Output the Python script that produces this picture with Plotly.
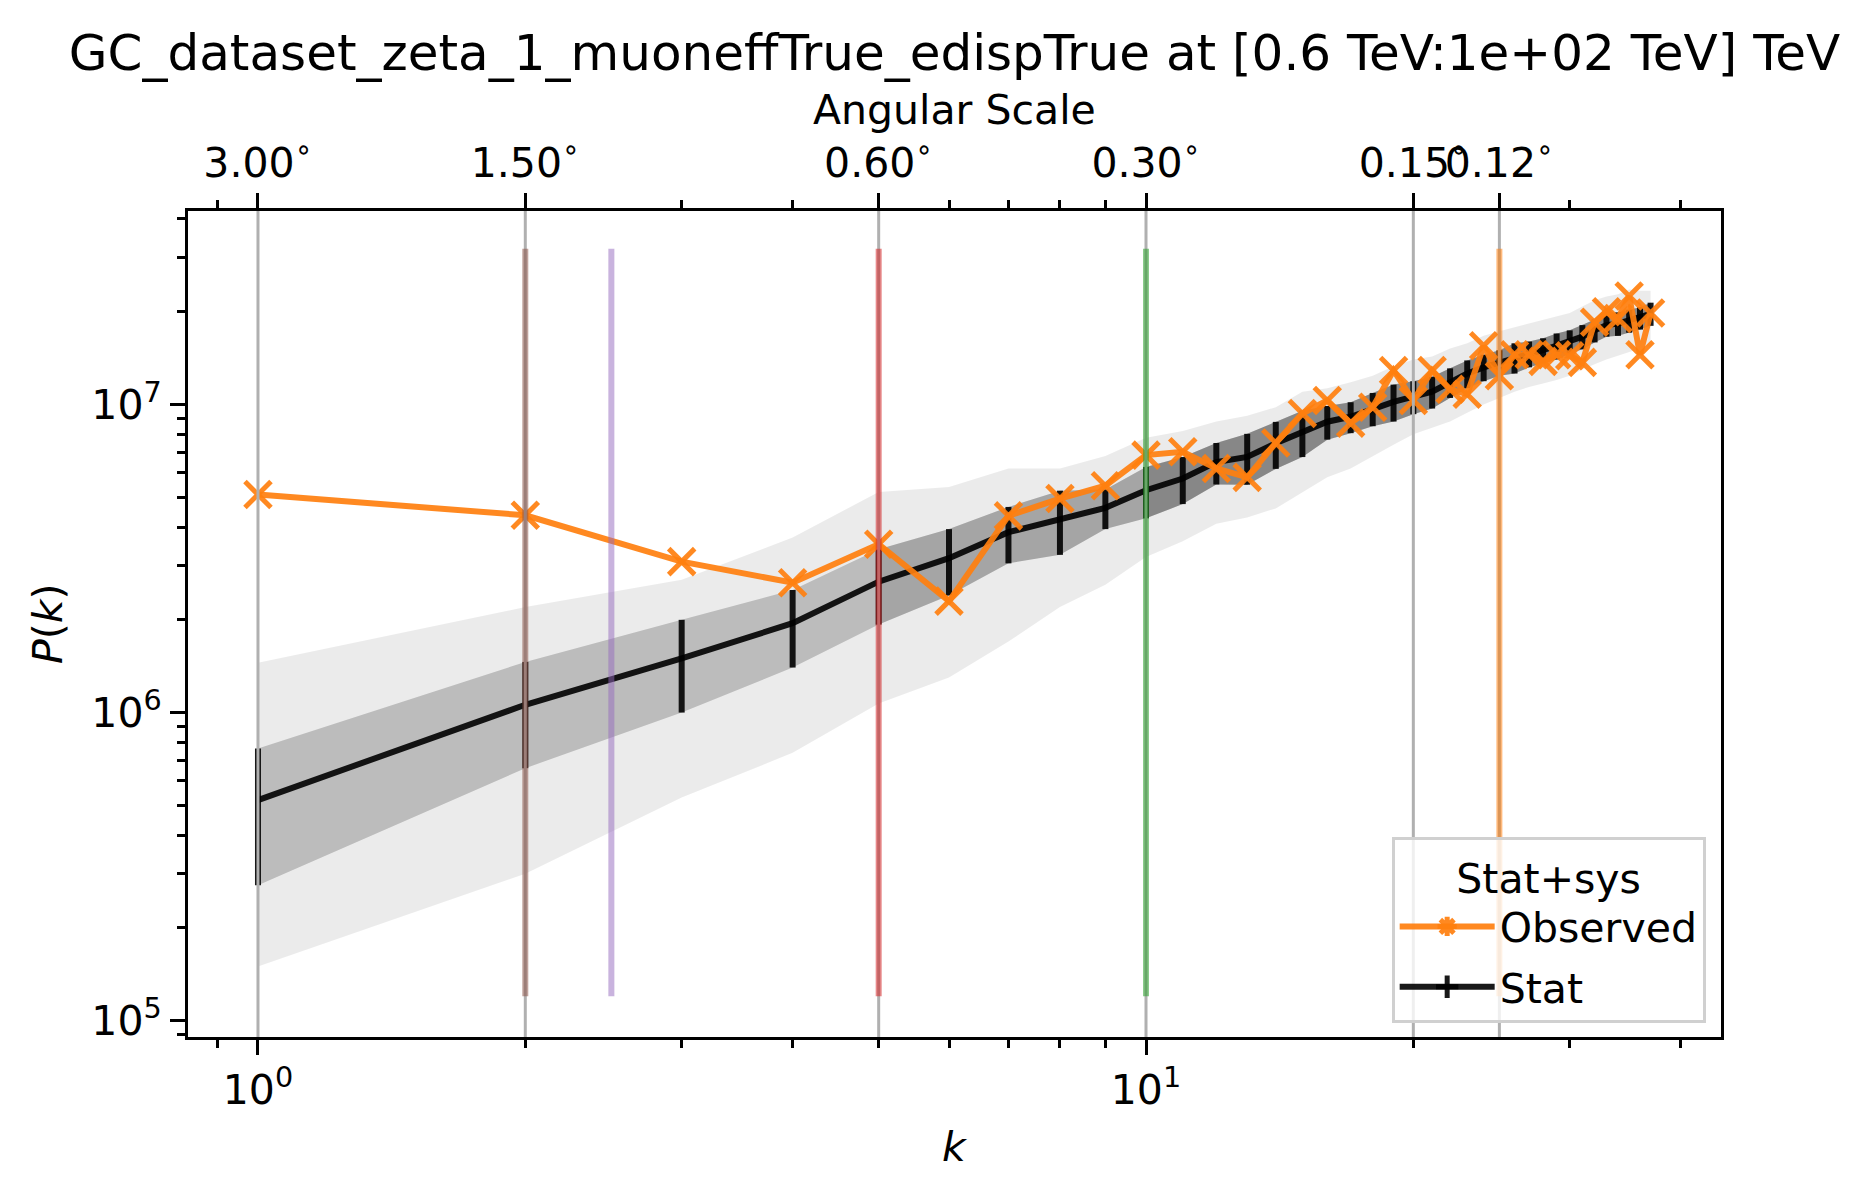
import plotly.graph_objects as go

# ---------------- data ----------------
k = list(range(1, 38))

observed = [5.1e6, 4.37e6, 3.09e6, 2.64e6, 3.52e6, 2.3e6, 4.35e6, 4.95e6, 5.45e6, 6.85e6,
            7.02e6, 6.2e6, 5.8e6, 7.5e6, 9.35e6, 1.03e7, 8.7e6, 9.8e6, 1.29e7, 1.03e7,
            1.29e7, 1.12e7, 1.08e7, 1.55e7, 1.24e7, 1.45e7, 1.45e7, 1.38e7, 1.45e7, 1.44e7,
            1.37e7, 1.85e7, 2.0e7, 1.9e7, 2.25e7, 1.45e7, 1.98e7]

stat_mean = [5.2e5, 1.06e6, 1.50e6, 1.95e6, 2.66e6, 3.17e6, 3.85e6, 4.25e6, 4.62e6, 5.27e6,
             5.75e6, 6.5e6, 6.76e6, 7.48e6, 8.15e6, 8.79e6, 9.12e6, 9.7e6, 1.02e7, 1.06e7,
             1.10e7, 1.18e7, 1.26e7, 1.32e7, 1.37e7, 1.42e7, 1.46e7, 1.50e7, 1.55e7, 1.60e7,
             1.66e7, 1.74e7, 1.81e7, 1.83e7, 1.87e7, 1.91e7, 1.97e7]

stat_err = [2.45e5, 4.0e5, 5.0e5, 5.5e5, 7.3e5, 7.7e5, 8.0e5, 1.0e6, 6.8e5, 1.0e6,
            1.0e6, 1.0e6, 1.27e6, 1.3e6, 1.4e6, 1.1e6, 1.05e6, 1.2e6, 1.4e6, 1.3e6,
            1.3e6, 1.3e6, 1.3e6, 1.3e6, 1.3e6, 1.6e6, 1.4e6, 1.4e6, 1.5e6, 1.4e6,
            1.5e6, 1.5e6, 1.5e6, 1.6e6, 1.6e6, 1.6e6, 1.7e6]

# envelope of the simulated realisations (grey spaghetti)
cloud_hi = [1.45e6, 2.2e6, 2.7e6, 3.7e6, 5.2e6, 5.4e6, 6.2e6, 6.2e6, 6.8e6, 7.8e6,
            8.2e6, 8.8e6, 9.2e6, 9.8e6, 1.1e7, 1.13e7, 1.18e7, 1.24e7, 1.33e7, 1.4e7,
            1.43e7, 1.52e7, 1.58e7, 1.67e7, 1.73e7, 1.78e7, 1.83e7, 1.88e7, 1.93e7, 1.98e7,
            2.08e7, 2.18e7, 2.24e7, 2.28e7, 2.36e7, 2.34e7, 2.34e7]
cloud_lo = [1.5e5, 3.0e5, 5.3e5, 7.4e5, 1.07e6, 1.3e6, 1.7e6, 2.2e6, 2.6e6, 3.2e6,
            3.6e6, 4.1e6, 4.3e6, 4.6e6, 5.2e6, 5.8e6, 6.2e6, 6.8e6, 7.4e6, 8.0e6,
            8.4e6, 8.8e6, 9.4e6, 1.0e7, 1.05e7, 1.1e7, 1.14e7, 1.17e7, 1.2e7, 1.24e7,
            1.3e7, 1.35e7, 1.4e7, 1.44e7, 1.48e7, 1.52e7, 1.55e7]

# top (angular scale) axis
angular_k = [1, 2, 5, 10, 20, 25]
angular_labels = ["3.00<sup>∘</sup>", "1.50<sup>∘</sup>", "0.60<sup>∘</sup>",
                  "0.30<sup>∘</sup>", "0.15<sup>∘</sup>", "0.12<sup>∘</sup>"]
top_minor_k = [0.9, 3, 4, 6, 7, 8, 9, 30, 40]

# coloured vertical markers
vline_k = [2, 2.5, 5, 10, 25]
vline_colors = ["rgba(140,86,75,0.55)", "rgba(148,103,189,0.5)", "rgba(214,39,40,0.55)",
                "rgba(44,160,44,0.55)", "rgba(255,127,14,0.55)"]
vline_ymin = 1.2e5
vline_ymax = 3.2e7

# bottom / left ticks
x_major = [1, 10]
x_major_text = ["10<sup>0</sup>", "10<sup>1</sup>"]
x_minor = [0.9, 2, 3, 4, 5, 6, 7, 8, 9, 20, 30, 40]
y_major = [1e5, 1e6, 1e7]
y_major_text = ["10<sup>5</sup>", "10<sup>6</sup>", "10<sup>7</sup>"]
y_minor = [9e4, 2e5, 3e5, 4e5, 5e5, 6e5, 7e5, 8e5, 9e5,
           2e6, 3e6, 4e6, 5e6, 6e6, 7e6, 8e6, 9e6, 2e7, 3e7, 4e7]

x_range_log = [-0.0788, 1.6475]
y_range_log = [4.947, 7.628]

FONT = "DejaVu Sans"
ORANGE = "rgba(255,127,14,0.92)"
BLACK = "rgba(0,0,0,0.9)"

fig = go.Figure()


def band(xs, hi, lo, alpha):
    fig.add_trace(go.Scatter(
        x=xs + xs[::-1], y=hi + lo[::-1], fill="toself",
        fillcolor=f"rgba(0,0,0,{alpha})", line=dict(width=0), mode="lines",
        showlegend=False, hoverinfo="skip"))


# grey cloud: outer envelope of the realisations
band(k, cloud_hi, cloud_lo, 0.08)
# grey cloud: dense core (mean +/- stat error), denser towards high k
core_hi = [m + e for m, e in zip(stat_mean, stat_err)]
core_lo = [m - e for m, e in zip(stat_mean, stat_err)]
band(k, core_hi, core_lo, 0.2)
i5 = k.index(5)
band(k[i5:], core_hi[i5:], core_lo[i5:], 0.12)
i10 = k.index(10)
band(k[i10:], core_hi[i10:], core_lo[i10:], 0.18)

# Stat (mean with error bars)
fig.add_trace(go.Scatter(
    x=k, y=stat_mean, mode="lines", line=dict(color=BLACK, width=6),
    error_y=dict(type="data", array=stat_err, visible=True, thickness=6, width=0, color=BLACK),
    showlegend=False))

# Observed
fig.add_trace(go.Scatter(
    x=k, y=observed, mode="lines+markers", line=dict(color=ORANGE, width=6),
    marker=dict(symbol="x-thin-open", size=26, line=dict(color=ORANGE, width=5)),
    showlegend=False))

# top angular-scale axis (carries no visible marks; binds the axis)
fig.add_trace(go.Scatter(
    x=angular_k, y=[None] * len(angular_k), xaxis="x2", yaxis="y", mode="markers",
    showlegend=False, hoverinfo="skip"))

# legend entries
fig.add_trace(go.Scatter(
    x=[None], y=[None], mode="lines+markers", name="Observed", legendgroup="obs",
    line=dict(color=ORANGE, width=6),
    marker=dict(symbol="asterisk-open", size=40, line=dict(color=ORANGE, width=6))))
fig.add_trace(go.Scatter(
    x=[None], y=[None], mode="lines+markers", name="Stat", legendgroup="stat",
    line=dict(color=BLACK, width=6),
    marker=dict(symbol="cross-thin-open", size=40, line=dict(color=BLACK, width=6))))

shapes = []
for kv in angular_k:
    shapes.append(dict(type="line", xref="x", yref="paper", x0=kv, x1=kv, y0=0, y1=1,
                       line=dict(color="#b0b0b0", width=3), layer="above"))
for kv, col in zip(vline_k, vline_colors):
    shapes.append(dict(type="line", xref="x", yref="y", x0=kv, x1=kv,
                       y0=vline_ymin, y1=vline_ymax,
                       line=dict(color=col, width=6), layer="above"))

tickfont = dict(family=FONT, size=41, color="black")

fig.update_layout(
    width=1870, height=1194, autosize=False,
    margin=dict(l=188, r=149, t=211, b=157),
    paper_bgcolor="white", plot_bgcolor="white",
    font=dict(family=FONT, color="black"),
    title=dict(text="GC_dataset_zeta_1_muoneffTrue_edispTrue at [0.6 TeV:1e+02 TeV] TeV",
               font=dict(family=FONT, size=50, color="black"),
               x=0.5, xref="paper", xanchor="center",
               y=1 - 52 / 1194, yref="container", yanchor="middle"),
    xaxis=dict(type="log", range=x_range_log, showgrid=False, zeroline=False,
               showline=True, linecolor="black", linewidth=3, mirror=False,
               ticks="outside", ticklen=15, tickwidth=3, tickcolor="black",
               tickmode="array", tickvals=x_major, ticktext=x_major_text,
               tickfont=tickfont, tickangle=0,
               minor=dict(tickmode="array", tickvals=x_minor, ticks="outside",
                          ticklen=8, tickwidth=2.5, tickcolor="black", showgrid=False)),
    xaxis2=dict(type="log", range=x_range_log, overlaying="x", side="top", anchor="y",
                showgrid=False, zeroline=False,
                showline=True, linecolor="black", linewidth=3,
                ticks="outside", ticklen=15, tickwidth=3, tickcolor="black",
                tickmode="array", tickvals=angular_k, ticktext=angular_labels,
                tickfont=tickfont, tickangle=0,
                minor=dict(tickmode="array", tickvals=top_minor_k, ticks="outside",
                           ticklen=8, tickwidth=2.5, tickcolor="black", showgrid=False)),
    yaxis=dict(type="log", range=y_range_log, showgrid=False, zeroline=False,
               showline=True, linecolor="black", linewidth=3, mirror=True,
               ticks="outside", ticklen=15, tickwidth=3, tickcolor="black",
               tickmode="array", tickvals=y_major, ticktext=y_major_text,
               tickfont=tickfont,
               minor=dict(tickmode="array", tickvals=y_minor, ticks="outside",
                          ticklen=8, tickwidth=2.5, tickcolor="black", showgrid=False)),
    shapes=shapes,
    legend=dict(x=0.990, xanchor="right", y=0.017, yanchor="bottom",
                bgcolor="rgba(255,255,255,0.8)", bordercolor="#d0d0d0", borderwidth=3,
                font=dict(family=FONT, size=41, color="black"),
                title=dict(text="Stat+sys", side="top center",
                           font=dict(family=FONT, size=41, color="black")),
                itemsizing="trace", itemwidth=95, tracegroupgap=4),
    annotations=[
        dict(text="Angular Scale", xref="paper", yref="paper", x=0.5, y=1,
             yshift=(211 - 110), xanchor="center", yanchor="middle", showarrow=False,
             font=dict(family=FONT, size=41, color="black")),
        dict(text="<i>k</i>", xref="paper", yref="paper", x=0.5, y=0,
             yshift=-(1147 - 1037), xanchor="center", yanchor="middle", showarrow=False,
             font=dict(family=FONT, size=41, color="black")),
        dict(text="<i>P</i>(<i>k</i>)", xref="paper", yref="paper", x=0, y=0.5,
             xshift=-(188 - 48), xanchor="center", yanchor="middle", showarrow=False,
             textangle=-90, font=dict(family=FONT, size=41, color="black")),
    ],
)

fig.write_html("out.html", config={"displayModeBar": False},
               post_script="document.body.style.margin='0';document.body.style.overflow='hidden';")
